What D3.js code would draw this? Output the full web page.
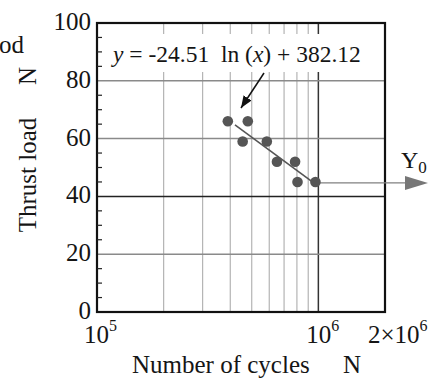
<!DOCTYPE html>
<html>
<head>
<meta charset="utf-8">
<script src="https://cdn.jsdelivr.net/npm/d3@7"></script>
<style>
  body { margin: 0; background: #fff; }
  svg { display: block; font-family: "Liberation Serif", "DejaVu Serif", serif; }
  .pre { white-space: pre; }
</style>
</head>
<body>
<svg id="chart" width="443" height="378"></svg>
<script>
// measured points (cycles, thrust load)
const cycles = [3.9e5, 4.8e5, 4.55e5, 5.85e5, 6.5e5, 7.85e5, 8.05e5, 9.7e5];
const loads = [66, 66, 59, 59, 52, 52, 45, 45];

// fitted curve y = a ln(x) + b
const fitA = -24.51, fitB = 382.12;
const fitRange = [4.2e5, 9.5e5];

const yTicks = [0, 20, 40, 60, 80, 100];
const yMinor = d3.range(0, 101, 5);
const xGrid = [2e5, 3e5, 4e5, 5e5, 6e5, 7e5, 8e5, 9e5];

const svg = d3.select("#chart");
const x = d3.scaleLog().domain([1e5, 2e6]).range([97, 385]);
const y = d3.scaleLinear().domain([0, 100]).range([312, 23]);
const ink = "#151515";

const defs = svg.append("defs");
defs.append("marker").attr("id", "blk")
    .attr("viewBox", "0 0 10 10").attr("refX", 10).attr("refY", 5)
    .attr("markerWidth", 12).attr("markerHeight", 12).attr("markerUnits", "userSpaceOnUse")
    .attr("orient", "auto")
  .append("path").attr("d", "M0,1 L10,5 L0,9 Z").attr("fill", "#111");

// grid
svg.selectAll(".vg").data(xGrid).enter().append("line")
    .attr("x1", d => x(d)).attr("x2", d => x(d))
    .attr("y1", y(0)).attr("y2", y(100))
    .attr("stroke", "#b4b4b4").attr("stroke-width", 1.2);
svg.append("line")
    .attr("x1", x(1e6)).attr("x2", x(1e6)).attr("y1", y(0)).attr("y2", y(100))
    .attr("stroke", "#333").attr("stroke-width", 1.5);
svg.selectAll(".hg").data([20, 40, 60, 80]).enter().append("line")
    .attr("x1", x(1e5)).attr("x2", x(2e6))
    .attr("y1", d => y(d)).attr("y2", d => y(d))
    .attr("stroke", d => d === 40 ? "#222" : "#8a8a8a").attr("stroke-width", 1.5);

// equation box
svg.append("rect").attr("x", 100).attr("y", 34).attr("width", 272).attr("height", 38).attr("fill", "#fff");
const eq = svg.append("text").attr("class", "pre").attr("x", 113).attr("y", 62)
    .attr("font-size", 23.5).attr("fill", ink);
eq.append("tspan").attr("font-style", "italic").text("y");
eq.append("tspan").text(" = -24.51  ln (");
eq.append("tspan").attr("font-style", "italic").text("x");
eq.append("tspan").text(") + 382.12");

// annotation arrow
svg.append("line").attr("x1", 264).attr("y1", 73).attr("x2", 241).attr("y2", 108)
    .attr("stroke", "#111").attr("stroke-width", 1.5).attr("marker-end", "url(#blk)");

// frame
svg.append("rect").attr("x", x(1e5)).attr("y", y(100))
    .attr("width", x(2e6) - x(1e5)).attr("height", y(0) - y(100))
    .attr("fill", "none").attr("stroke", "#111").attr("stroke-width", 2.2);

// minor ticks on y axis
svg.selectAll(".mt").data(yMinor.filter(d => d % 20 !== 0)).enter().append("line")
    .attr("x1", x(1e5)).attr("x2", x(1e5) + 5)
    .attr("y1", d => y(d)).attr("y2", d => y(d))
    .attr("stroke", "#222").attr("stroke-width", 1.2);

// Y0 arrow
const last = cycles.length - 1;
svg.append("line")
    .attr("x1", x(cycles[last])).attr("y1", y(loads[last]) + 1)
    .attr("x2", 406).attr("y2", y(loads[last]) + 1)
    .attr("stroke", "#808080").attr("stroke-width", 1.3);
svg.append("path")
    .attr("d", d3.line()([[405, y(loads[last]) - 6], [428, y(loads[last]) + 1], [405, y(loads[last]) + 8]]) + "Z")
    .attr("fill", "#777");
const y0 = svg.append("text").attr("x", 401).attr("y", 168).attr("font-size", 24).attr("fill", ink);
y0.append("tspan").text("Y");
y0.append("tspan").attr("font-size", 17).attr("dy", 5).text("0");

// fit line
const fitPts = fitRange.map(v => [x(v), y(fitA * Math.log(v) + fitB)]);
svg.append("path").attr("d", d3.line()(fitPts))
    .attr("stroke", "#555").attr("stroke-width", 1.6).attr("fill", "none");

// points
svg.selectAll(".pt").data(cycles).enter().append("circle")
    .attr("cx", d => x(d)).attr("cy", (d, i) => y(loads[i]))
    .attr("r", 5.3).attr("fill", "#555");

// y tick labels
svg.selectAll(".yl").data(yTicks).enter().append("text")
    .attr("x", 91).attr("y", d => y(d) + 7)
    .attr("text-anchor", "end").attr("font-size", 25).attr("fill", ink)
    .text(d => d);

// x tick labels
function powLabel(px, base, exp) {
  const t = svg.append("text").attr("x", px).attr("y", 343).attr("font-size", 25).attr("fill", ink);
  t.append("tspan").text(base);
  t.append("tspan").attr("font-size", 16).attr("dy", -12).text(exp);
}
powLabel(x(1e5) - 13, "10", "5");
powLabel(x(1e6) - 12, "10", "6");
powLabel(368, "2×10", "6");

// axis titles
svg.append("text").attr("x", 132).attr("y", 373).attr("font-size", 25).attr("fill", ink)
    .text("Number of cycles");
svg.append("text").attr("x", 343).attr("y", 373).attr("font-size", 25).attr("fill", ink)
    .text("N");
svg.append("text").attr("transform", "translate(36,175) rotate(-90)")
    .attr("text-anchor", "middle").attr("font-size", 25).attr("fill", ink)
    .text("Thrust load");
svg.append("text").attr("transform", "translate(36,76) rotate(-90)")
    .attr("text-anchor", "middle").attr("font-size", 25).attr("fill", ink)
    .text("N");
svg.append("text").attr("x", -1).attr("y", 53).attr("font-size", 25).attr("fill", ink)
    .text("od");
</script>
</body>
</html>
